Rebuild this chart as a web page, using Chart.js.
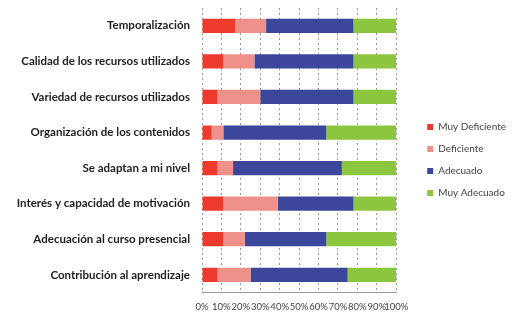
<!DOCTYPE html>
<html>
<head>
<meta charset="utf-8">
<script src="https://cdn.jsdelivr.net/npm/chart.js@4"></script>
<style>
html,body{margin:0;padding:0;background:#fff;}
#wrap{width:515px;height:315px;}
</style>
</head>
<body>
<div id="wrap"><canvas id="c" width="515" height="315"></canvas></div>
<script>
const categories = [
  "Temporalización",
  "Calidad de los recursos utilizados",
  "Variedad de recursos utilizados",
  "Organización de los contenidos",
  "Se adaptan a mi nivel",
  "Interés y capacidad de motivación",
  "Adecuación al curso presencial",
  "Contribución al aprendizaje"
];
const seriesNames = ["Muy Deficiente", "Deficiente", "Adecuado", "Muy Adecuado"];
const muyDeficiente = [17, 11, 8, 5, 8, 11, 11, 8];
const deficiente    = [16, 16, 22, 6, 8, 28, 11, 17];
const adecuado      = [45, 51, 48, 53, 56, 39, 42, 50];
const muyAdecuado   = [22, 22, 22, 36, 28, 22, 36, 25];
const xTicks = [0, 10, 20, 30, 40, 50, 60, 70, 80, 90, 100];

const colors = ["#ee3a2c", "#f0908a", "#3c479c", "#8cc63f"];
const values = [muyDeficiente, deficiente, adecuado, muyAdecuado];

const LEGEND_GAP = 19;
const LEGEND_SHIFT_UP = 5;

new Chart(document.getElementById("c"), {
  type: "bar",
  data: {
    labels: categories,
    datasets: seriesNames.map((n, i) => ({
      label: n,
      data: values[i],
      backgroundColor: colors[i],
      borderWidth: 0,
      barPercentage: 0.4,
      categoryPercentage: 1
    }))
  },
  options: {
    indexAxis: "y",
    responsive: false,
    animation: false,
    devicePixelRatio: 1,
    layout: { padding: { top: 8, right: -2, left: 0, bottom: -7 } },
    plugins: {
      tooltip: { enabled: false },
      legend: {
        position: "right",
        align: "center",
        labels: {
          boxWidth: 6,
          boxHeight: 6,
          padding: 12,
          color: "#444",
          font: { family: "Lato", size: 10 }
        }
      }
    },
    scales: {
      x: {
        stacked: true,
        min: 0,
        max: 100,
        afterBuildTicks: s => { s.ticks = xTicks.map(v => ({ value: v })); },
        ticks: {
          autoSkip: false,
          maxRotation: 0,
          padding: 9,
          color: "#444",
          font: { family: "Lato", size: 9.5 },
          callback: v => v + "%"
        },
        grid: {
          color: "#999",
          lineWidth: 1,
          drawTicks: false
        },
        border: { display: true, color: "#999", dash: [2, 3] }
      },
      y: {
        stacked: true,
        afterFit: s => { s.width = 202; s.paddingTop = 0; s.paddingBottom = 0; },
        ticks: {
          padding: 12,
          color: "#222",
          font: { family: "Lato", size: 11.5, weight: "bold" }
        },
        grid: { display: false, drawTicks: false },
        border: { display: false }
      }
    }
  },
  plugins: [{
    id: "legendGap",
    beforeLayout(chart) {
      const lg = chart.legend;
      if (lg && !lg._gapPatched) {
        const f = lg.fit.bind(lg);
        lg.fit = function () { f(); this.width += LEGEND_GAP + 1; };
        lg._gapPatched = true;
      }
    },
    afterLayout(chart) {
      const lg = chart.legend;
      if (lg) {
        lg.left += LEGEND_GAP;
        lg.width -= LEGEND_GAP;
        lg.top -= LEGEND_SHIFT_UP;
        lg.bottom -= LEGEND_SHIFT_UP;
      }
    }
  }]
});
</script>
</body>
</html>
